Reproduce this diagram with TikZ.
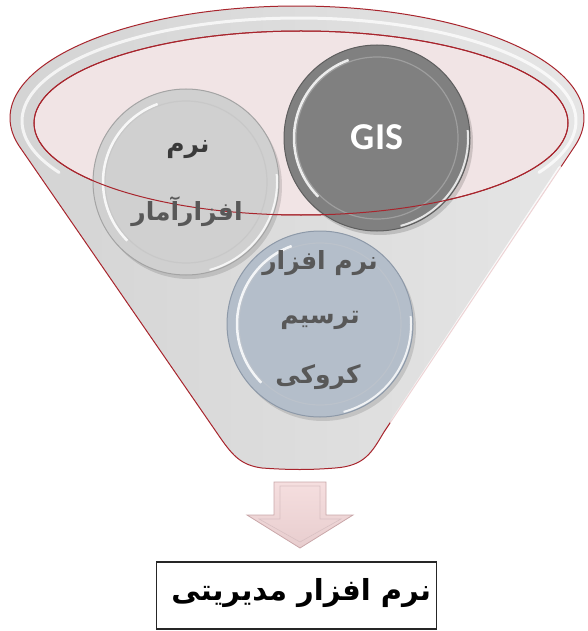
\documentclass[tikz,border=0pt]{standalone}
\usepackage{fontspec}
\newfontfamily\fa[Script=Arabic]{DejaVu Sans}
\newfontfamily\gisfont{Carlito}
\TeXXeTstate=1
\definecolor{rimred}{HTML}{A8252D}
\definecolor{pinkin}{HTML}{F1E4E5}
\definecolor{gisfill}{HTML}{808080}
\definecolor{gisedge}{HTML}{5E5E5E}
\definecolor{statfill}{HTML}{D0D0D0}
\definecolor{statedge}{HTML}{A4A4A4}
\definecolor{bluefill}{HTML}{B4BECA}
\definecolor{blueedge}{HTML}{8D99A8}
\definecolor{arrowpink}{HTML}{F3D6D7}
\definecolor{arrowedge}{HTML}{C9A7A9}
\definecolor{txtdark}{HTML}{3A3A3A}
\definecolor{txtmid}{HTML}{585858}
\tikzset{
  disc/.style={circle, minimum size=186pt, inner sep=0pt, line width=1pt},
  fatext/.style={font=\fa\bfseries\fontsize{25}{28}\selectfont, inner sep=0pt},
}
\newcommand\discdeco[2]{%
  \draw[#2!60!white, line width=1.2pt] (#1.center) circle[radius=81pt];
  \draw[white, line width=2.5pt, opacity=.85] ([shift={(110:83pt)}]#1.center) arc[start angle=110, end angle=225, radius=83pt];
  \draw[white, line width=2pt, opacity=.8] ([shift={(-75:91pt)}]#1.center) arc[start angle=-75, end angle=5, radius=91pt];
}
\begin{document}
\begin{tikzpicture}[x=1pt,y=-1pt]
\path[use as bounding box] (0,0) rectangle (588,631);
% funnel body with rim
\draw[rimred, line width=1pt, left color=gray!34, right color=gray!20]
  plot[domain=164.4:375.1, samples=150] ({297+287*cos(\x)},{118+112*sin(\x)})
  -- (384,432) .. controls (372,452) and (365,466) .. (335,468)
  .. controls (310,470) and (290,470) .. (262,468)
  .. controls (240,465) and (232,455) .. (217,433) -- cycle;
% rim highlights
\draw[white, line width=3pt, opacity=.75, line cap=round]
  plot[domain=150:390, samples=120] ({299+277*cos(\x)},{121+103*sin(\x)});
\draw[white, line width=4pt, opacity=.8, line cap=round] (560,168) -- (392,422);
% inner opening
\draw[rimred, line width=1pt, fill=pinkin] (301,123) ellipse[x radius=267pt, y radius=92pt];
% discs
\fill[black, opacity=.12] (189,186) circle[radius=93pt];
\node[disc, fill=statfill, draw=statedge] (stat) at (186,182) {};
\discdeco{stat}{statedge}
\fill[black, opacity=.15] (380,142) circle[radius=93pt];
\node[disc, fill=gisfill, draw=gisedge] (gis) at (377,138) {};
\discdeco{gis}{gisedge}
\fill[black, opacity=.12] (323,328) circle[radius=93pt];
\node[disc, fill=bluefill, draw=blueedge] (kroki) at (320,324) {};
\discdeco{kroki}{blueedge}
% red line of the opening over the discs
\draw[rimred, line width=1pt] (301,123) ellipse[x radius=267pt, y radius=92pt];
% disc texts
\node[fatext, text=txtdark] (stat1) at (188,150) {\beginR نرم\endR};
\node[fatext, text=txtmid] (stat2) at (187,212) {\beginR افزارآمار\endR};
\node[font=\gisfont\bfseries\fontsize{38}{40}\selectfont, text=white, inner sep=0pt] (gistext) at (377,137) {GIS};
\node[fatext, text=txtmid] (kr1) at (320,263) {\beginR نرم افزار\endR};
\node[fatext, text=txtmid] (kr2) at (320,320) {\beginR ترسیم\endR};
\node[fatext, text=txtmid] (kr3) at (318,377) {\beginR کروکی\endR};
% arrow
\coordinate (atop) at (300,482);
\draw[arrowedge, line width=.8pt, top color=arrowpink!80!white, bottom color=arrowpink!90!gray]
  ([xshift=-26pt]atop) -- ([xshift=26pt]atop) -- ([xshift=26pt,yshift=-33pt]atop)
  -- ([xshift=53pt,yshift=-33pt]atop) -- ([yshift=-66pt]atop) -- ([xshift=-53pt,yshift=-33pt]atop)
  -- ([xshift=-26pt,yshift=-33pt]atop) -- cycle;
\draw[arrowedge!70!white, line width=.6pt]
  ([xshift=-20pt,yshift=-4pt]atop) -- ([xshift=20pt,yshift=-4pt]atop) -- ([xshift=20pt,yshift=-37pt]atop)
  -- ([xshift=41pt,yshift=-37pt]atop) -- ([yshift=-60pt]atop) -- ([xshift=-41pt,yshift=-37pt]atop)
  -- ([xshift=-20pt,yshift=-37pt]atop) -- cycle;
% result box
\node[draw=black!85, line width=1.6pt, minimum width=280pt, minimum height=67pt, inner sep=0pt] (box) at (296.5,595.5) {};
\node[font=\fa\bfseries\fontsize{29}{32}\selectfont, anchor=east, inner sep=0pt] (boxtext) at ([xshift=-6pt,yshift=2pt]box.east) {\beginR نرم افزار مدیریتی\endR};
\end{tikzpicture}
\end{document}
